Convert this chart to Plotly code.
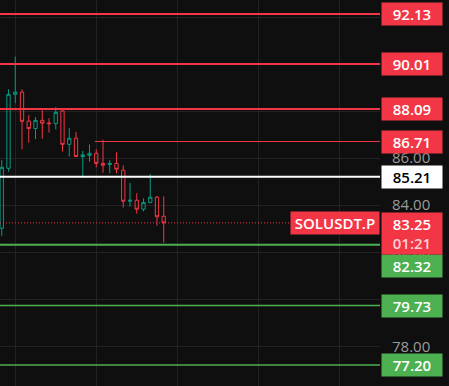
import plotly.graph_objects as go

# ---- data ----
candle_idx = list(range(25))
opens  = [83.02, 85.57, 88.72, 88.81, 87.58, 87.26, 87.61, 87.50, 87.47, 88.01,
          86.59, 86.85, 86.07, 86.12, 86.21, 85.78, 85.73, 85.78, 85.49, 84.17,
          84.21, 83.83, 84.12, 84.34, 83.53]
highs  = [85.92, 88.93, 90.32, 88.93, 87.83, 87.75, 88.05, 87.70, 88.17, 88.05,
          87.29, 87.12, 86.31, 86.59, 86.38, 86.78, 85.92, 86.25, 85.70, 84.95,
          84.51, 84.29, 85.33, 84.39, 84.38]
lows   = [82.70, 85.43, 88.34, 86.38, 86.66, 86.81, 86.83, 87.09, 87.23, 86.28,
          86.07, 86.06, 85.17, 85.85, 85.61, 85.38, 85.36, 85.36, 83.90, 83.94,
          83.64, 83.74, 84.08, 83.13, 82.41]
closes = [85.61, 88.72, 88.81, 87.57, 87.26, 87.61, 87.49, 87.47, 87.95, 86.59,
          86.85, 86.07, 86.14, 86.21, 85.78, 85.70, 85.78, 85.53, 84.17, 84.21,
          83.83, 84.12, 84.34, 83.51, 83.25]

tick_vals = [78, 80, 82, 84, 86, 88, 90, 92]
tick_text = ["78.00", "80.00", "82.00", "84.00", "86.00", "", "", ""]  # upper ones sit under badges

red_levels = [92.13, 90.01, 88.09]
ray_level = 86.71
ray_start_idx = 13.8
white_level = 85.21
green_levels = [82.32, 79.73, 77.20]
green_label_shift = [-21.5, 0, 0]
last_price = 83.25
countdown = "01:21"
symbol = "SOLUSDT.P"

# ---- style ----
BG = "#0f0f0f"
GRID = "#222222"
RED = "#f23645"
GREEN_LINE = "#4caf50"
UP = "#089981"
WHITE = "#ffffff"
FONT = "Open Sans"

x_range = [-0.26, 56.04]
y_range = [76.31, 92.73]

fig = go.Figure()
fig.add_trace(go.Candlestick(
    x=candle_idx, open=opens, high=highs, low=lows, close=closes,
    increasing=dict(line=dict(color=UP, width=1), fillcolor="rgba(0,0,0,0)"),
    decreasing=dict(line=dict(color=RED, width=1), fillcolor="rgba(0,0,0,0)"),
    whiskerwidth=0, hoverinfo="skip", showlegend=False,
))

shapes = []
for lv in red_levels:
    shapes.append(dict(type="line", xref="paper", x0=0, x1=1, yref="y", y0=lv, y1=lv,
                       line=dict(color=RED, width=2)))
shapes.append(dict(type="line", xref="x", x0=ray_start_idx, x1=x_range[1], yref="y",
                   y0=ray_level, y1=ray_level, line=dict(color=RED, width=1)))
shapes.append(dict(type="line", xref="paper", x0=0, x1=1, yref="y", y0=white_level, y1=white_level,
                   line=dict(color=WHITE, width=2)))
for lv in green_levels:
    shapes.append(dict(type="line", xref="paper", x0=0, x1=1, yref="y", y0=lv, y1=lv,
                       line=dict(color=GREEN_LINE, width=2 if lv == green_levels[0] else 1.5)))
shapes.append(dict(type="line", xref="paper", x0=0, x1=1, yref="y", y0=last_price, y1=last_price,
                   line=dict(color=RED, width=1, dash="1px,2px")))

def badge(y, text, bg, fg, yshift=0, h=18, yanchor="middle"):
    return dict(xref="paper", x=1, xanchor="left", xshift=1, yref="y", y=y, yanchor=yanchor,
                yshift=yshift, text=text, showarrow=False, bgcolor=bg, width=56, height=h,
                borderpad=2, align="center", valign="middle",
                font=dict(family=FONT, size=15, color=fg, weight=600))

annotations = []
for lv in red_levels + [ray_level]:
    annotations.append(badge(lv, f"{lv:.2f}", RED, WHITE))
annotations.append(badge(white_level, f"{white_level:.2f}", WHITE, "#000000"))
for lv, sh in zip(green_levels, green_label_shift):
    annotations.append(badge(lv, f"{lv:.2f}", GREEN_LINE, WHITE, yshift=sh))
annotations.append(badge(last_price,
                         f"{last_price:.2f}<br><span style='color:#ffd0d4'>{countdown}</span>",
                         RED, WHITE, yshift=11, h=37, yanchor="top"))
annotations.append(dict(xref="paper", x=1, xanchor="right", xshift=0, yref="y", y=last_price,
                        yanchor="middle", text=symbol, showarrow=False, bgcolor=RED,
                        width=84, height=18, borderpad=2, align="center",
                        font=dict(family=FONT, size=15, color=WHITE, weight=600)))

fig.update_layout(
    width=449, height=386,
    margin=dict(l=0, r=69, t=0, b=0),
    paper_bgcolor=BG, plot_bgcolor=BG,
    shapes=shapes, annotations=annotations,
    showlegend=False,
    xaxis=dict(range=x_range, rangeslider=dict(visible=False), showticklabels=False,
               tick0=2, dtick=12, showgrid=True, gridcolor=GRID, gridwidth=1,
               zeroline=False, showline=False, ticks=""),
    yaxis=dict(range=y_range, side="right", tickmode="array", tickvals=tick_vals,
               ticktext=tick_text,
               showgrid=True, gridcolor=GRID, gridwidth=1, zeroline=False, showline=False,
               ticks="", ticklabelstandoff=11,
               tickfont=dict(family=FONT, size=15, color="#9b9b9b")),
)

fig.write_html("out.html")
